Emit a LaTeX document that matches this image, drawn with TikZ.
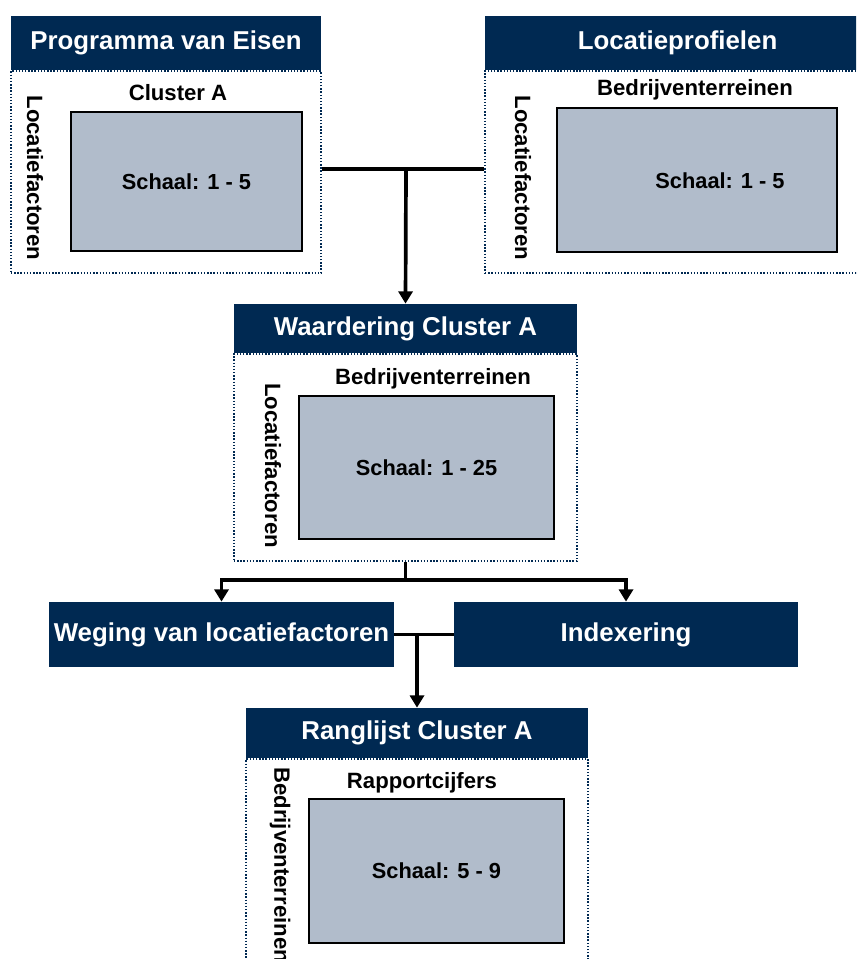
\documentclass[tikz,border=0pt]{standalone}
\usepackage{fontspec}
\setmainfont{Liberation Sans}
\usepackage{tikz}
\usetikzlibrary{calc}
\usetikzlibrary{positioning}
\usetikzlibrary{arrows.meta}
\definecolor{navy}{RGB}{0,41,82}
\definecolor{slate}{RGB}{177,188,203}
\tikzstyle{headnode} = [fill=navy, text=white, inner sep=0pt, align=center, font=\fontsize{14.7}{17}\selectfont\bfseries]
\tikzstyle{bodynode} = [draw=navy, densely dotted, line width=0.8pt, fill=white, inner sep=0pt, anchor=north]
\tikzstyle{scalenode} = [draw=black, line width=0.6pt, fill=slate, inner sep=0pt, font=\fontsize{12.4}{15}\selectfont\bfseries]
\tikzstyle{subnode} = [inner sep=0pt, font=\fontsize{12.6}{15}\selectfont\bfseries]
\tikzstyle{sidenode} = [inner sep=0pt, rotate=-90, font=\fontsize{12.6}{15}\selectfont\bfseries]
\tikzstyle{link} = [line width=2.1pt]
\tikzstyle{arrow} = [line width=2.1pt, -{Triangle[width=8pt,length=7pt]}]

\begin{document}
\begin{tikzpicture}
    \useasboundingbox (0,0) rectangle (17.12,-19.18);
    \clip (0,0) rectangle (17.12,-19.18);

    % Programma van Eisen
    \node[headnode, minimum width=6.2cm, minimum height=1.08cm] (pve_head) at (3.32,-0.86) {Programma van Eisen};
    \node[bodynode, minimum width=6.2cm, minimum height=4.04cm] (pve_body) at (pve_head.south) {};
    \node[scalenode, minimum width=4.62cm, minimum height=2.78cm] (pve_grid) at ($(pve_head)+(0.41,-2.77)$) {Schaal: 1 - 5};
    \node[subnode] (pve_sub) at ($(pve_head)+(0.24,-1.00)$) {Cluster A};
    \node[sidenode] (pve_side) at ($(pve_head)+(-2.62,-2.70)$) {Locatiefactoren};

    % Locatieprofielen
    \node[headnode, minimum width=7.7cm, minimum height=1.08cm] (lp_head) at (13.55,-0.86) {Locatieprofielen};
    \node[bodynode, minimum width=7.7cm, minimum height=4.04cm] (lp_body) at (lp_head.south) {};
    \node[scalenode, minimum width=5.6cm, minimum height=2.88cm] (lp_grid) at ($(lp_head)+(0.39,-2.74)$) {};
    \node[inner sep=0pt, font=\fontsize{12.4}{15}\selectfont\bfseries] (lp_scale) at ($(lp_head)+(0.85,-2.76)$) {Schaal: 1 - 5};
    \node[subnode] (lp_sub) at ($(lp_head)+(0.35,-0.94)$) {Bedrijventerreinen};
    \node[sidenode] (lp_side) at ($(lp_head)+(-3.09,-2.70)$) {Locatiefactoren};

    % Waardering Cluster A
    \node[headnode, minimum width=6.86cm, minimum height=0.98cm] (wca_head) at (8.11,-6.57) {Waardering Cluster A};
    \node[bodynode, minimum width=6.86cm, minimum height=4.14cm] (wca_body) at (wca_head.south) {};
    \node[scalenode, minimum width=5.1cm, minimum height=2.86cm] (wca_grid) at ($(wca_head)+(0.42,-2.78)$) {Schaal: 1 - 25};
    \node[subnode] (wca_sub) at ($(wca_head)+(0.55,-1.01)$) {Bedrijventerreinen};
    \node[sidenode] (wca_side) at ($(wca_head)+(-2.65,-2.74)$) {Locatiefactoren};

    % Weging en indexering
    \node[headnode, minimum width=6.9cm, minimum height=1.3cm] (weg) at (4.43,-12.69) {Weging van locatiefactoren};
    \node[headnode, minimum width=6.88cm, minimum height=1.3cm] (idx) at (12.52,-12.69) {Indexering};

    % Ranglijst Cluster A
    \node[headnode, minimum width=6.84cm, minimum height=1.0cm] (rca_head) at (8.34,-14.66) {Ranglijst Cluster A};
    \node[bodynode, minimum width=6.84cm, minimum height=4.64cm] (rca_body) at (rca_head.south) {};
    \node[scalenode, minimum width=5.1cm, minimum height=2.88cm] (rca_grid) at ($(rca_head)+(0.39,-2.76)$) {Schaal: 5 - 9};
    \node[subnode] (rca_sub) at ($(rca_head)+(0.10,-1.00)$) {Rapportcijfers};
    \node[sidenode, anchor=west] (rca_side) at ($(rca_head)+(-2.74,-0.68)$) {Bedrijventerreinen};

    % verbindingen
    \coordinate (top_join) at (8.12,-3.38);
    \coordinate (mid_join) at (8.11,-11.6);
    \draw[link] (pve_body.east |- top_join) -- (top_join) -- (lp_body.west |- top_join);
    \draw[arrow] (top_join) -- (wca_head.north);
    \draw[link] (wca_body.south) -- (mid_join);
    \draw[arrow] (mid_join) -| (weg.north);
    \draw[arrow] (mid_join) -| (idx.north);
    \draw[link] (weg.east) -- (idx.west);
    \draw[arrow] (weg.east -| rca_head.north) -- (rca_head.north);
\end{tikzpicture}
\end{document}
